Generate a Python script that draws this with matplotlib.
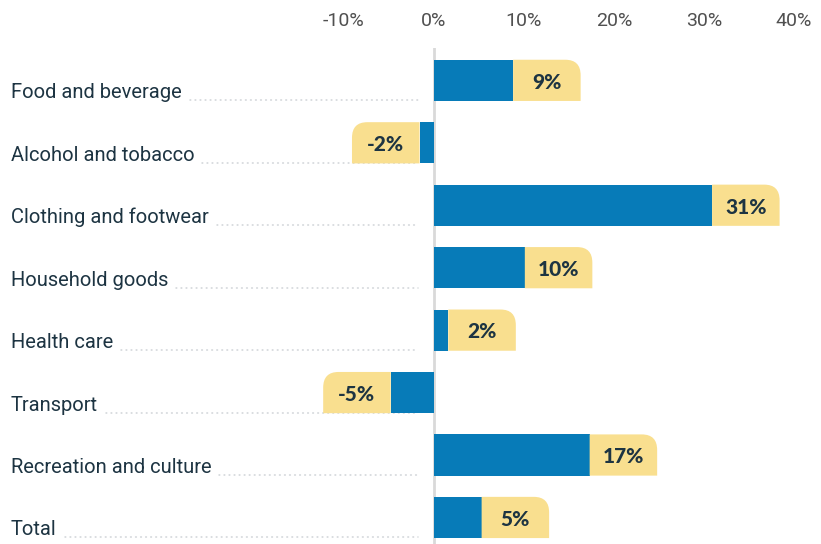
import matplotlib
matplotlib.use("Agg")
import matplotlib.pyplot as plt
from matplotlib.path import Path
from matplotlib.patches import PathPatch

categories = ['Food and beverage', 'Alcohol and tobacco', 'Clothing and footwear',
              'Household goods', 'Health care', 'Transport',
              'Recreation and culture', 'Total']
values = [8.8, -1.6, 30.9, 10.1, 1.6, -4.8, 17.3, 5.3]
labels = ['9%', '-2%', '31%', '10%', '2%', '-5%', '17%', '5%']
ticks = [-10, 0, 10, 20, 30, 40]

bar_col = '#077bb8'
box_col = '#f9df8f'
text_col = '#1d3442'

fig = plt.figure(figsize=(8.21, 5.44), dpi=100)
ax = fig.add_axes([0, 0, 1, 0.912])
ax.set_xlim(-48.2, 43.0)
ax.set_ylim(7.425, -0.52)
for s in ax.spines.values():
    s.set_visible(False)
ax.set_yticks([])
ax.xaxis.tick_top()
ax.set_xticks(ticks)
ax.set_xticklabels([f'{t}%' for t in ticks], fontsize=14, color='#505050',
                   family='Roboto')
ax.tick_params(axis='x', length=0, pad=13)

h = 0.66
boxw = 7.5
rx, ry = 1.7, 0.25

ax.axvline(0, color='#d9d9d9', lw=2, zorder=1)

y = range(len(categories))
ax.barh(y, values, height=h, color=bar_col, zorder=3)


def box(x0, x1, yc, right):
    top, bot = yc - h / 2, yc + h / 2
    if right:
        verts = [(x0, bot), (x0, top), (x1 - rx, top), (x1, top), (x1, top + ry), (x1, bot), (x0, bot)]
    else:
        verts = [(x1, bot), (x1, top), (x0 + rx, top), (x0, top), (x0, top + ry), (x0, bot), (x1, bot)]
    codes = [Path.MOVETO, Path.LINETO, Path.LINETO, Path.CURVE3, Path.CURVE3, Path.LINETO, Path.CLOSEPOLY]
    ax.add_patch(PathPatch(Path(verts, codes), facecolor=box_col, edgecolor='none', zorder=3))


for i, (v, lab) in enumerate(zip(values, labels)):
    if v >= 0:
        box(v, v + boxw, i, True)
        cx = v + boxw / 2
    else:
        box(v - boxw, v, i, False)
        cx = v - boxw / 2
    ax.text(cx, i + 0.03, lab, ha='center', va='center', fontsize=15,
            fontweight='black', color=text_col, family='Lato', zorder=4)

# category labels with dotted leaders
txts = []
for i, c in enumerate(categories):
    t = ax.text(-47.0, i + 0.2, c, ha='left', va='center', fontsize=14.5,
                color=text_col, family='Roboto')
    txts.append(t)

fig.canvas.draw()
r = fig.canvas.get_renderer()
inv = ax.transData.inverted()
for i, t in enumerate(txts):
    bb = t.get_window_extent(renderer=r)
    xs = inv.transform((bb.x1 + 8, 0))[0]
    ax.plot([xs, -1.8], [i + 0.32, i + 0.32], color='#cfd3d7', lw=1.1,
            linestyle=(0, (0.5, 2.8)), dash_capstyle='round', zorder=2)

fig.savefig('out.png', dpi=100)
